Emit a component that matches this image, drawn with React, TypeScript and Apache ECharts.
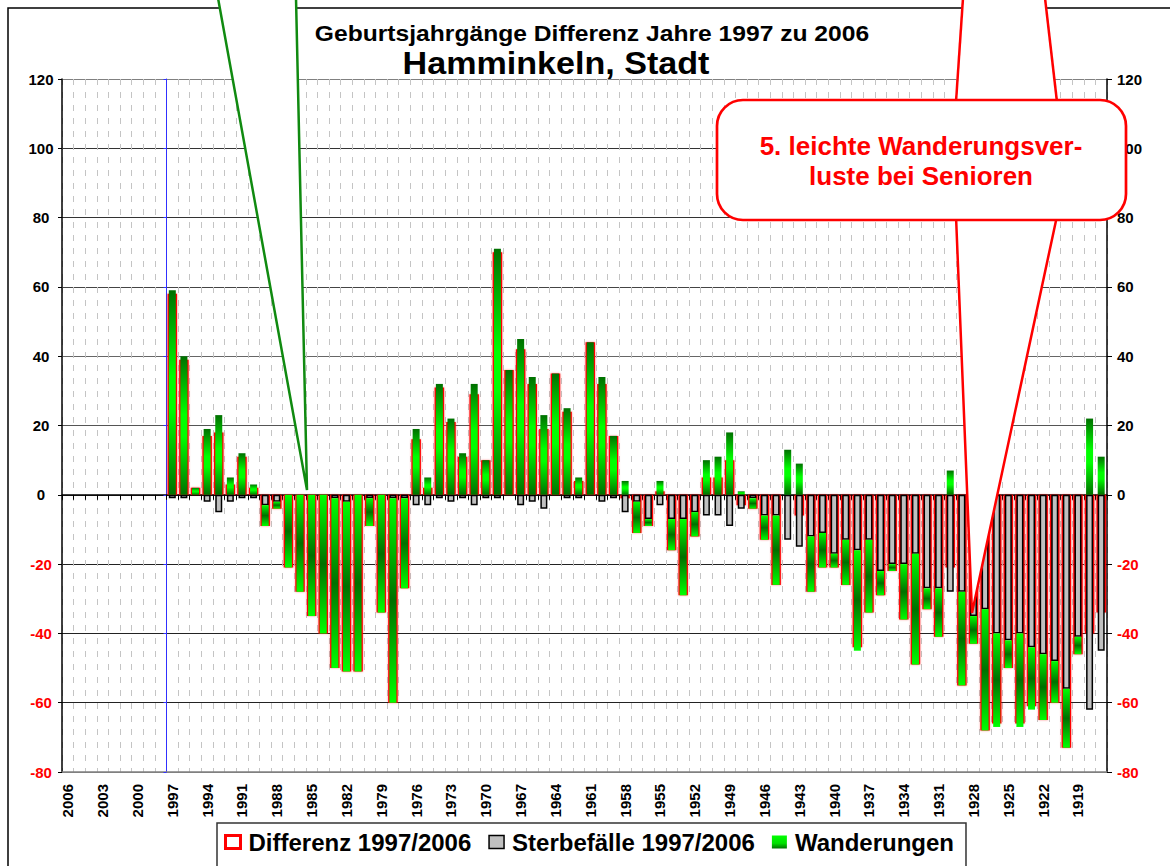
import React, { useEffect, useRef } from "react";
import * as echarts from "echarts";

const YEARS: string[] = [
  "2006", "2005", "2004", "2003", "2002", "2001", "2000", "1999", "1998", "1997",
  "1996", "1995", "1994", "1993", "1992", "1991", "1990", "1989", "1988", "1987",
  "1986", "1985", "1984", "1983", "1982", "1981", "1980", "1979", "1978", "1977",
  "1976", "1975", "1974", "1973", "1972", "1971", "1970", "1969", "1968", "1967",
  "1966", "1965", "1964", "1963", "1962", "1961", "1960", "1959", "1958", "1957",
  "1956", "1955", "1954", "1953", "1952", "1951", "1950", "1949", "1948", "1947",
  "1946", "1945", "1944", "1943", "1942", "1941", "1940", "1939", "1938", "1937",
  "1936", "1935", "1934", "1933", "1932", "1931", "1930", "1929", "1928", "1927",
  "1926", "1925", "1924", "1923", "1922", "1921", "1920", "1919", "1918", "1917",
];

// Differenz 1997/2006 (2006..1998 not born yet)
const DIFFERENZ: (number | null)[] = [
  null, null, null, null, null, null, null, null, null,
  58, 39, 2, 17, 18, 3, 11, 2, -9, -4,
  -21, -28, -35, -40, -50, -51, -51, -9, -34, -60,
  -27, 16, 2, 31, 21, 11, 29, 10, 70, 36,
  42, 32, 19, 35, 24, 4, 44, 32, 17, -1,
  -11, -9, 1, -16, -29, -12, 5, 5, 10, -3,
  -4, -13, -26, 0, -6, -28, -21, -21, -26, -44,
  -34, -29, -22, -36, -49, -33, -41, -21, -55, -43,
  -68, -66, -50, -66, -61, -65, -60, -73, -46, -40,
  -34,
];

// Sterbefälle 1997/2006
const STERBEFAELLE: (number | null)[] = [
  null, null, null, null, null, null, null, null, null,
  -1, -1, 0, -2, -5, -2, -1, -1, -3, -2,
  0, 0, 0, 0, -1, -2, 0, -1, 0, -1,
  -1, -3, -3, -1, -2, -1, -3, -1, -1, 0,
  -3, -2, -4, 0, -1, -1, 0, -2, -1, -5,
  -2, -7, -3, -7, -7, -5, -6, -6, -9, -4,
  -1, -6, -6, -13, -15, -12, -11, -17, -13, -16,
  -13, -22, -20, -20, -17, -27, -27, -28, -28, -35,
  -33, -40, -42, -40, -44, -46, -48, -56, -41, -62,
  -45,
];

// Wanderungen
const WANDERUNGEN: (number | null)[] = [
  null, null, null, null, null, null, null, null, null,
  59, 40, 2, 19, 23, 5, 12, 3, -6, -2,
  -21, -28, -35, -40, -49, -49, -51, -8, -34, -59,
  -26, 19, 5, 32, 22, 12, 32, 10, 71, 36,
  45, 34, 23, 35, 25, 5, 44, 34, 17, 4,
  -9, -2, 4, -9, -22, -7, 10, 11, 18, 1,
  -3, -7, -20, 13, 9, -16, -10, -4, -13, -29,
  -21, -7, -2, -16, -32, -6, -14, 7, -27, -8,
  -35, -27, -8, -27, -18, -19, -12, -17, -5, 22,
  11,
];

const Y_MIN = -80;
const Y_MAX = 120;
const Y_STEP = 20;

const FONT = "'Liberation Sans', Arial, Helvetica, sans-serif";

const GRID_LEFT = 62;
const GRID_RIGHT = 63;
const GRID_TOP = 79;
const GRID_BOTTOM = 94;
const CHART_W = 1170;
const CHART_H = 866;

const DARK = "#007000";
const BRIGHT = "#00ff00";

const greenPos = {
  type: "linear", x: 0, y: 0, x2: 0, y2: 1,
  colorStops: [
    { offset: 0, color: DARK },
    { offset: 0.42, color: BRIGHT },
    { offset: 0.58, color: BRIGHT },
    { offset: 1, color: DARK },
  ],
};
const greenNeg = {
  type: "linear", x: 0, y: 0, x2: 0, y2: 1,
  colorStops: [
    { offset: 0, color: BRIGHT },
    { offset: 0.5, color: DARK },
    { offset: 1, color: BRIGHT },
  ],
};
const greenLegend = {
  type: "linear", x: 0, y: 0, x2: 0, y2: 1,
  colorStops: [
    { offset: 0, color: BRIGHT },
    { offset: 0.6, color: "#00e000" },
    { offset: 1, color: DARK },
  ],
};

export default function App() {
  const ref = useRef<HTMLDivElement>(null);

  useEffect(() => {
    if (!ref.current) return;
    const chart = echarts.init(ref.current, undefined, { renderer: "svg" });

    const gridWidth = CHART_W - GRID_LEFT - GRID_RIGHT;
    const blueOffset = -(gridWidth / YEARS.length) * 9;

    const labelColor = (v: any) => (Number(v) < 0 ? "#ff0000" : "#000000");
    const splitColors = ["#808080", "#222", "#222", "#222", "#333", "#555", "#666", "#444", "#333", "#333", "#808080"];

    const option: any = {
      animation: false,
      backgroundColor: "#ffffff",
      textStyle: { fontFamily: FONT },
      grid: { left: GRID_LEFT, right: GRID_RIGHT, top: GRID_TOP, bottom: GRID_BOTTOM, containLabel: false },
      legend: {
        left: 217,
        top: 823,
        selectedMode: false,
        itemWidth: 15,
        itemHeight: 13,
        itemGap: 17,
        padding: [7, 12, 30, 7],
        borderColor: "#333",
        borderWidth: 1.5,
        backgroundColor: "#ffffff",
        textStyle: { fontFamily: FONT, fontWeight: "bold", fontSize: 24, color: "#000", padding: [0, 0, 0, 3] },
        data: [
          { name: "Differenz 1997/2006", icon: "rect", itemStyle: { color: "#ffffff", borderColor: "#ff0000", borderWidth: 3 } },
          { name: "Sterbefälle 1997/2006", icon: "rect", itemStyle: { color: "#c0c0c0", borderColor: "#000", borderWidth: 1.5 } },
          { name: "Wanderungen", icon: "rect", itemStyle: { color: greenLegend, borderWidth: 0 } },
        ],
      },
      xAxis: [
        {
          type: "category",
          data: YEARS,
          position: "bottom",
          boundaryGap: true,
          axisLine: { onZero: false, lineStyle: { color: "#808080", width: 1.5 } },
          axisTick: { show: false },
          axisLabel: {
            interval: 2,
            rotate: 90,
            margin: 12,
            fontFamily: FONT,
            fontWeight: "bold",
            fontSize: 15,
            color: "#000",
          },
          splitLine: { show: true, interval: 0, lineStyle: { color: "#c4c4c4", width: 1, type: [6, 7] } },
        },
        {
          type: "category",
          data: YEARS,
          position: "bottom",
          boundaryGap: true,
          axisLine: { onZero: true, lineStyle: { color: "#000", width: 1.5 } },
          axisTick: { show: true, interval: 0, length: 5, lineStyle: { color: "#000", width: 1 } },
          axisLabel: { show: false, interval: 0 },
          splitLine: { show: false },
        },
      ],
      yAxis: [
        {
          type: "value",
          min: Y_MIN,
          max: Y_MAX,
          interval: Y_STEP,
          position: "left",
          axisLine: { show: true, lineStyle: { color: "#000", width: 1.5 } },
          axisTick: { show: true, length: 4, lineStyle: { color: "#000" } },
          axisLabel: {
            align: "center",
            margin: 21,
            fontFamily: FONT,
            fontWeight: "bold",
            fontSize: 15,
            color: labelColor,
          },
          splitLine: { show: true, lineStyle: { color: splitColors, width: 1 } },
        },
        {
          type: "value",
          min: Y_MIN,
          max: Y_MAX,
          interval: Y_STEP,
          position: "right",
          axisLine: { show: true, onZero: false, lineStyle: { color: "#000", width: 1.5 } },
          axisTick: { show: true, length: 5, lineStyle: { color: "#000" } },
          axisLabel: {
            align: "left",
            margin: 10,
            fontFamily: FONT,
            fontWeight: "bold",
            fontSize: 15,
            color: labelColor,
          },
          splitLine: { show: false },
        },
        {
          type: "value",
          min: Y_MIN,
          max: Y_MAX,
          interval: Y_STEP,
          position: "left",
          offset: blueOffset,
          axisLine: { show: true, onZero: false, lineStyle: { color: "#3030ff", width: 1 } },
          axisTick: { show: true, length: 3, lineStyle: { color: "#3030ff" } },
          axisLabel: { show: false },
          splitLine: { show: false },
        },
      ],
      series: [
        {
          name: "Differenz 1997/2006",
          type: "bar",
          xAxisIndex: 0,
          yAxisIndex: 0,
          barWidth: 9.5,
          data: DIFFERENZ,
          itemStyle: {
            color: "#ffffff",
            borderColor: "#ff0000",
            borderWidth: 2,
            shadowBlur: 2,
            shadowColor: "rgba(255,0,0,0.45)",
          },
        },
        {
          name: "Sterbefälle 1997/2006",
          type: "bar",
          xAxisIndex: 1,
          yAxisIndex: 0,
          stack: "sw",
          barWidth: 7,
          data: STERBEFAELLE.map((v) => (v === 0 ? null : v)),
          itemStyle: { color: "#c0c0c0", borderColor: "#000", borderWidth: 1.5 },
        },
        {
          name: "Wanderungen",
          type: "bar",
          xAxisIndex: 1,
          yAxisIndex: 0,
          stack: "sw",
          barWidth: 7,
          data: WANDERUNGEN.map((v) =>
            v == null ? null : { value: v, itemStyle: { color: v >= 0 ? greenPos : greenNeg } }
          ),
          itemStyle: { color: greenLegend, borderWidth: 0 },
        },
      ],
      graphic: [
        {
          type: "rect",
          silent: true,
          z: 0,
          shape: { x: 8, y: 8, width: 1200, height: 900 },
          style: { fill: "none", stroke: "#000", lineWidth: 1.5 },
        },
        // green pointer wedge (from a callout above)
        {
          type: "polygon",
          silent: true,
          z: 100,
          shape: { points: [[218, -2], [296, -2], [307, 490]] },
          style: { fill: "#ffffff", stroke: "none" },
        },
        {
          type: "polyline",
          silent: true,
          z: 101,
          shape: { points: [[218, -2], [307, 490], [296, -2]] },
          style: { fill: "none", stroke: "#108a10", lineWidth: 2.5 },
        },
        // red wedge above the callout
        {
          type: "polygon",
          silent: true,
          z: 100,
          shape: { points: [[963, -2], [1045, -2], [1057, 102], [956, 102]] },
          style: { fill: "#ffffff", stroke: "none" },
        },
        {
          type: "line",
          silent: true,
          z: 101,
          shape: { x1: 963, y1: -2, x2: 956, y2: 102 },
          style: { stroke: "#ff0000", lineWidth: 2.5 },
        },
        {
          type: "line",
          silent: true,
          z: 101,
          shape: { x1: 1045, y1: -2, x2: 1057, y2: 102 },
          style: { stroke: "#ff0000", lineWidth: 2.5 },
        },
        // red callout pointer
        {
          type: "polygon",
          silent: true,
          z: 100,
          shape: { points: [[956, 216], [1057, 216], [972, 613]] },
          style: { fill: "#ffffff", stroke: "none" },
        },
        {
          type: "polyline",
          silent: true,
          z: 101,
          shape: { points: [[956, 216], [972, 613], [1057, 216]] },
          style: { fill: "none", stroke: "#ff0000", lineWidth: 2.5 },
        },
        {
          type: "rect",
          silent: true,
          z: 102,
          shape: { x: 717, y: 100, width: 409, height: 120, r: 26 },
          style: { fill: "#ffffff", stroke: "#ff0000", lineWidth: 2.7 },
        },
        {
          type: "text",
          silent: true,
          z: 103,
          x: 921,
          y: 146,
          style: {
            text: "5. leichte Wanderungsver-",
            fill: "#ff0000",
            font: `bold 26px ${FONT}`,
            textAlign: "center",
            textVerticalAlign: "middle",
          },
        },
        {
          type: "text",
          silent: true,
          z: 103,
          x: 921,
          y: 176,
          style: {
            text: "luste bei Senioren",
            fill: "#ff0000",
            font: `bold 26px ${FONT}`,
            textAlign: "center",
            textVerticalAlign: "middle",
          },
        },
        // titles
        {
          type: "text",
          silent: true,
          z: 103,
          x: 592,
          y: 33,
          scaleX: 1.12,
          style: {
            text: "Geburtsjahrgänge Differenz Jahre 1997 zu 2006",
            fill: "#000",
            font: `bold 22px ${FONT}`,
            textAlign: "center",
            textVerticalAlign: "middle",
          },
        },
        {
          type: "text",
          silent: true,
          z: 103,
          x: 556,
          y: 64,
          scaleX: 1.1,
          style: {
            text: "Hamminkeln, Stadt",
            fill: "#000",
            font: `bold 31px ${FONT}`,
            textAlign: "center",
            textVerticalAlign: "middle",
          },
        },
      ],
    };

    chart.setOption(option);
    return () => chart.dispose();
  }, []);

  return (
    <div
      ref={ref}
      style={{ position: "fixed", left: 0, top: 0, width: CHART_W, height: CHART_H, background: "#fff" }}
    />
  );
}
